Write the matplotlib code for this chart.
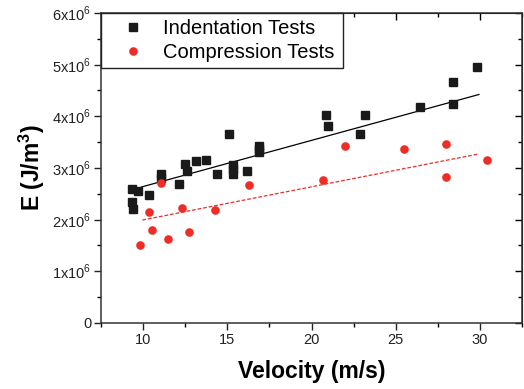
import matplotlib.pyplot as plt
from matplotlib.ticker import MultipleLocator, FuncFormatter

plt.rcParams['font.family'] = ['Liberation Sans', 'DejaVu Sans']
plt.rcParams['mathtext.fontset'] = 'custom'
plt.rcParams['mathtext.rm'] = 'Liberation Sans'
plt.rcParams['mathtext.bf'] = 'Liberation Sans:bold'

# Indentation tests (black squares)
ind_v = [9.31, 9.70, 9.33, 9.41, 10.36, 11.05, 11.05, 12.12, 12.51, 12.61,
         13.13, 13.74, 14.39, 15.10, 15.34, 15.34, 15.34, 16.16, 16.9, 16.9,
         16.9, 20.87, 20.97, 22.89, 23.16, 26.44, 28.43, 28.43, 29.86]
ind_e = [2.59, 2.55, 2.33, 2.20, 2.48, 2.88, 2.81, 2.68, 3.07, 2.93,
         3.14, 3.16, 2.89, 3.65, 3.06, 2.97, 2.89, 2.93, 3.43, 3.37,
         3.30, 4.02, 3.81, 3.65, 4.02, 4.17, 4.66, 4.23, 4.95]

# Compression tests (red circles)
comp_v = [9.80, 10.36, 10.53, 11.05, 11.46, 12.31, 12.75, 14.29, 16.28,
          20.71, 22.01, 25.47, 28.0, 28.0, 30.45]
comp_e = [1.51, 2.15, 1.79, 2.70, 1.63, 2.22, 1.76, 2.19, 2.66,
          2.76, 3.43, 3.36, 3.47, 2.83, 3.16]

# linear fit lines (end points)
ind_fit_v = [9.9, 29.95]
ind_fit_e = [2.63, 4.42]
comp_fit_v = [9.95, 29.95]
comp_fit_e = [1.99, 3.27]

scale = 1e6
red = '#ee2e26'

fig = plt.figure(figsize=(5.24, 3.89), dpi=100)
ax = fig.add_axes([0.193, 0.170, 0.803, 0.797])

ax.plot(ind_v, [e * scale for e in ind_e], 's', color='#1a1a1a',
        markersize=5.5, label='Indentation Tests', zorder=3)
ax.plot(comp_v, [e * scale for e in comp_e], 'o', color=red,
        markersize=6.2, markeredgewidth=0, label='Compression Tests', zorder=3)
ax.plot(ind_fit_v, [e * scale for e in ind_fit_e], '-', color='black', lw=0.9)
ax.plot(comp_fit_v, [e * scale for e in comp_fit_e], '--', color=red, lw=0.9,
        dashes=(3, 1.5))

ax.set_xlim(7.5, 32.5)
ax.set_ylim(0, 6e6)
ax.xaxis.set_major_locator(MultipleLocator(5))
ax.xaxis.set_minor_locator(MultipleLocator(2.5))
ax.yaxis.set_major_locator(MultipleLocator(1e6))
ax.yaxis.set_minor_locator(MultipleLocator(0.5e6))


def fmt_y(v, pos):
    if v == 0:
        return '0'
    return f'{int(round(v / scale))}x10$^{{6}}$'


ax.yaxis.set_major_formatter(FuncFormatter(fmt_y))
ax.tick_params(which='major', direction='out', length=5, width=1, labelsize=10.5,
               pad=2, colors='#222222')
ax.tick_params(which='minor', direction='out', length=3, width=1)
for s in ax.spines.values():
    s.set_linewidth(1.1)
    s.set_color('#333333')

# mirrored ticks pointing inwards on top and right
top = ax.secondary_xaxis('top')
top.xaxis.set_major_locator(MultipleLocator(5))
top.xaxis.set_minor_locator(MultipleLocator(2.5))
top.tick_params(which='major', direction='in', length=5, width=1, labeltop=False)
top.tick_params(which='minor', direction='in', length=3, width=1)
right = ax.secondary_yaxis('right')
right.yaxis.set_major_locator(MultipleLocator(1e6))
right.yaxis.set_minor_locator(MultipleLocator(0.5e6))
right.tick_params(which='major', direction='in', length=5, width=1, labelright=False)
right.tick_params(which='minor', direction='in', length=3, width=1)

ax.set_xlabel('Velocity (m/s)', fontsize=16.5, fontweight='bold', labelpad=10)
ax.set_ylabel(r'E (J/m$^{\mathbf{3}}$)', fontsize=16.5, fontweight='bold', labelpad=4)

leg = ax.legend(loc='upper left', bbox_to_anchor=(0, 0, 0.575, 1), mode='expand',
                borderaxespad=0, fontsize=14.5, frameon=True,
                fancybox=False, edgecolor='#222222', framealpha=1,
                handletextpad=0.15, borderpad=0.3, labelspacing=0.25,
                handlelength=2.6)
leg.get_frame().set_linewidth(1.0)

fig.savefig('out.png', dpi=100)
